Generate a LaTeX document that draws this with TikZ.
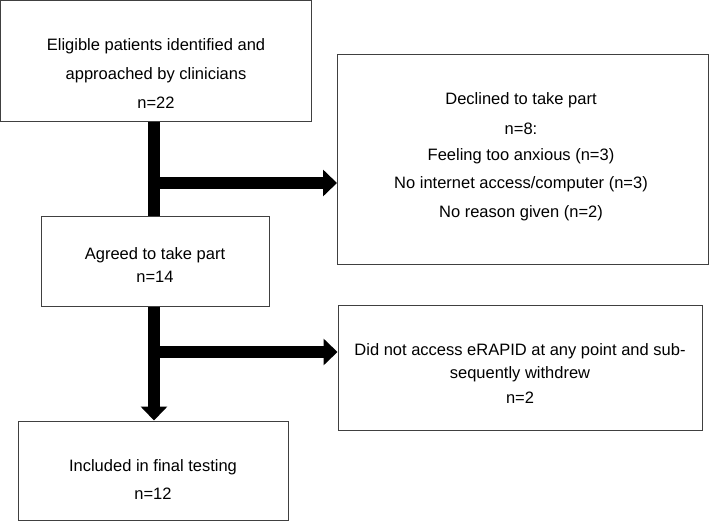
\documentclass[tikz,border=0pt]{standalone}
\usepackage{fontspec}
\setmainfont{Liberation Sans}
\usetikzlibrary{positioning,arrows.meta}

\tikzset{
    box/.style={draw=black!75, line width=1pt, inner sep=0pt},
    txt/.style={align=center, font=\fontsize{16.5}{23}\selectfont},
    flow/.style={line width=12pt, -{Triangle[length=14pt,width=26pt]}},
    bar/.style={line width=12pt}
}

\begin{document}
\begin{tikzpicture}[x=1pt,y=-1pt]
    \useasboundingbox (0,0) rectangle (709,521);
    % Boxes
    \node[box, minimum width=311pt, minimum height=121pt] (eligible) at (156,61) {};
    \node[box, minimum width=371pt, minimum height=210pt] (declined) at (523,160) {};
    \node[box, minimum width=228pt, minimum height=89pt] (agreed) at (155,261.5) {};
    \node[box, minimum width=364pt, minimum height=125pt] (withdrew) at (520,367.5) {};
    \node[box, minimum width=270pt, minimum height=99pt] (included) at (153,470.5) {};
    % Texts
    \node[txt] (eligibletxt) at (156,74) {Eligible patients identified and\\[6pt]
        approached by clinicians\\[6pt] n=22};
    \node[txt] (declinedtxt) at (521,157) {Declined to take part\\[7pt] n=8:\\[3pt]
        Feeling too anxious (n=3)\\[5pt] No internet access/computer (n=3)\\[6pt]
        No reason given (n=2)};
    \node[txt] (agreedtxt) at (155,265) {Agreed to take part\\ n=14};
    \node[txt] (withdrewtxt) at (520,374) {Did not access eRAPID at any point and sub-\\
        sequently withdrew\\[2pt] n=2};
    \node[txt] (includedtxt) at (153,480) {Included in final testing\\[5pt] n=12};
    % Connectors
    \coordinate (split1) at (154,183);
    \coordinate (split2) at (154,352);
    \draw[bar] (eligible.south -| split1) -- (agreed.north -| split1);
    \draw[flow] (split1) -- (split1 -| declined.west);
    \draw[flow] (agreed.south -| split2) -- (included.north -| split2);
    \draw[flow] (split2) -- (split2 -| withdrew.west);
\end{tikzpicture}
\end{document}
